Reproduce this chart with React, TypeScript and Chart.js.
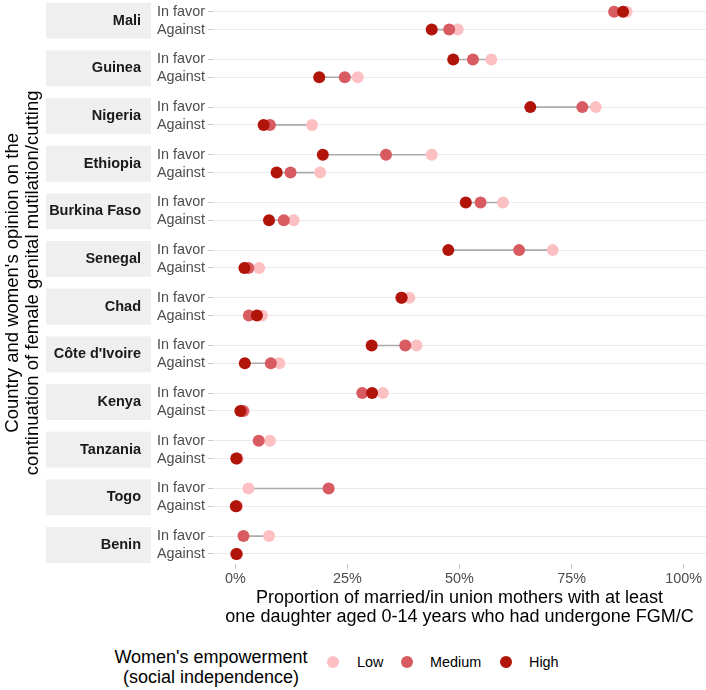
import React, { useEffect, useRef } from 'react';
import { Chart, registerables } from 'chart.js';

Chart.register(...registerables);

const countries = ['Mali', 'Guinea', 'Nigeria', 'Ethiopia', 'Burkina Faso', 'Senegal', 'Chad', "Côte d'Ivoire", 'Kenya', 'Tanzania', 'Togo', 'Benin'];
const opinions = ['In favor', 'Against'];

// percentages, one value per country (null = not shown)
const lowInFavor = [87.3, 57.1, 80.4, 43.8, 59.7, 70.8, 38.8, 40.4, 32.9, 7.7, 2.9, 7.5];
const mediumInFavor = [84.5, 53.0, 77.4, 33.6, 54.7, 63.3, 37.0, 37.9, 28.3, 5.2, 20.8, 1.8];
const highInFavor = [86.5, 48.6, 65.8, 19.5, 51.4, 47.5, 37.1, 30.4, 30.5, null, null, null];
const lowAgainst = [49.6, 27.3, 17.1, 18.9, 13.0, 5.3, 5.9, 9.8, 1.9, 0.5, 0.4, 0.4];
const mediumAgainst = [47.7, 24.4, 7.7, 12.3, 10.8, 2.9, 3.0, 7.9, 1.7, 0.3, 0.2, 0.3];
const highAgainst = [43.8, 18.7, 6.3, 9.2, 7.5, 2.0, 4.8, 2.1, 1.1, 0.2, 0.1, 0.2];

const xTicks = [0, 25, 50, 75, 100];

const levels = ['Low', 'Medium', 'High'];
const levelColors = ['#FCC0C3', '#D75B60', '#B11409'];

const FONT = 'Liberation Sans, Arial, sans-serif';
const PANEL_STEP = 2.678; // distance between facets, in row units
const rowY = (i: number, k: number) => i * PANEL_STEP + k;

const toPoints = (favor: (number | null)[], against: (number | null)[]) =>
  countries
    .flatMap((_, i) => [
      { x: favor[i], y: rowY(i, 0) },
      { x: against[i], y: rowY(i, 1) },
    ])
    .filter((p) => p.x != null);

const stripPlugin = {
  id: 'strips',
  afterDraw(chart: any) {
    const { ctx } = chart;
    const y = chart.scales.y;
    ctx.save();
    countries.forEach((name, i) => {
      const top = y.getPixelForValue(rowY(i, 0) - 0.51);
      const bottom = y.getPixelForValue(rowY(i, 1) + 0.51);
      ctx.fillStyle = '#EFEFEF';
      ctx.fillRect(46, top, 105, bottom - top);
      ctx.fillStyle = '#1A1A1A';
      ctx.font = `bold 14.5px ${FONT}`;
      ctx.textAlign = 'right';
      ctx.textBaseline = 'middle';
      ctx.fillText(name, 141, (top + bottom) / 2);
    });
    ctx.restore();
  },
};

const DumbbellChart = () => {
  const chartRef = useRef<HTMLCanvasElement>(null);

  useEffect(() => {
    const allSeries = [
      [lowInFavor, lowAgainst],
      [mediumInFavor, mediumAgainst],
      [highInFavor, highAgainst],
    ];

    const segments: { x: number | null; y: number | null }[] = [];
    countries.forEach((_, i) => {
      [0, 1].forEach((k) => {
        const vals = allSeries.map((s) => s[k][i]).filter((v) => v != null) as number[];
        if (vals.length < 2) return;
        segments.push({ x: Math.min(...vals), y: rowY(i, k) });
        segments.push({ x: Math.max(...vals), y: rowY(i, k) });
        segments.push({ x: null, y: null });
      });
    });

    const rowTicks = countries.flatMap((_, i) => [rowY(i, 0), rowY(i, 1)]);

    const chart = new Chart(chartRef.current!, {
      type: 'scatter',
      data: {
        datasets: [
          {
            label: 'range',
            data: segments as any,
            showLine: true,
            borderColor: '#ABABAB',
            borderWidth: 1.6,
            pointRadius: 0,
            order: 4,
          },
          ...levels.map((lvl, j) => ({
            label: lvl,
            data: toPoints(allSeries[j][0], allSeries[j][1]) as any,
            backgroundColor: levelColors[j],
            borderWidth: 0,
            pointRadius: 6,
            showLine: false,
            order: 3 - j,
          })),
        ],
      },
      options: {
        animation: false,
        responsive: true,
        maintainAspectRatio: false,
        events: [],
        layout: { autoPadding: false, padding: { top: 2, left: 0, right: 0, bottom: 0 } },
        plugins: {
          legend: { display: false },
          tooltip: { enabled: false },
        },
        scales: {
          x: {
            type: 'linear',
            min: -5,
            max: 105,
            afterBuildTicks: (s: any) => {
              s.ticks = xTicks.map((v) => ({ value: v }));
            },
            afterFit: (s: any) => {
              s.height = 66.3;
              s.paddingLeft = 0;
              s.paddingRight = 0;
            },
            grid: { drawOnChartArea: false, tickLength: 5, tickColor: '#C8C8C8' },
            border: { display: false },
            ticks: {
              callback: (v: any) => `${v}%`,
              color: '#4D4D4D',
              font: { family: FONT, size: 14.4 },
              padding: 2,
            },
            title: {
              display: true,
              text: [
                'Proportion of married/in union mothers with at least',
                'one daughter aged 0-14 years who had undergone FGM/C',
              ],
              color: '#000',
              font: { family: FONT, size: 18, lineHeight: 1.08 },
              padding: { top: 0, bottom: 3 },
            },
          },
          y: {
            type: 'linear',
            reverse: true,
            min: -0.55,
            max: rowY(countries.length - 1, 1) + 0.55,
            afterBuildTicks: (s: any) => {
              s.ticks = rowTicks.map((v) => ({ value: v }));
            },
            afterFit: (s: any) => {
              s.width = 213;
              s.paddingTop = 0;
              s.paddingBottom = 0;
            },
            grid: { color: '#EBEBEB', tickLength: 5, tickColor: '#C8C8C8' },
            border: { display: false },
            ticks: {
              autoSkip: false,
              callback: (_v: any, idx: number) => opinions[idx % 2],
              color: '#4D4D4D',
              font: { family: FONT, size: 14.4 },
              padding: 3,
            },
            title: {
              display: true,
              text: [
                "Country and women's opinion on the",
                'continuation of female genital mutilation/cutting',
              ],
              color: '#000',
              font: { family: FONT, size: 18.5, lineHeight: 1.06 },
              padding: { top: 3, bottom: 0 },
            },
          },
        },
      },
      plugins: [stripPlugin],
    });

    return () => {
      chart.destroy();
    };
  }, []);

  return <canvas ref={chartRef} />;
};

const App = () => {
  return (
    <div style={{ position: 'absolute', left: 0, top: 0, width: 706, height: 690, background: '#fff', fontFamily: FONT }}>
      <div style={{ position: 'relative', width: 706, height: 630 }}>
        <DumbbellChart />
      </div>
      <div
        style={{
          position: 'absolute',
          left: 106,
          top: 647,
          width: 210,
          textAlign: 'center',
          fontSize: 18,
          lineHeight: '20px',
          color: '#000',
        }}
      >
        Women's empowerment
        <br />
        (social independence)
      </div>
      {levels.map((lvl, j) => {
        const cx = [333, 407, 506][j];
        const tx = [357, 430, 529][j];
        return (
          <React.Fragment key={lvl}>
            <span
              style={{
                position: 'absolute',
                left: cx - 6,
                top: 656,
                width: 12,
                height: 12,
                borderRadius: 6,
                background: levelColors[j],
              }}
            />
            <span
              style={{
                position: 'absolute',
                left: tx,
                top: 653,
                fontSize: 14.4,
                lineHeight: '18px',
                color: '#000',
              }}
            >
              {lvl}
            </span>
          </React.Fragment>
        );
      })}
    </div>
  );
};

export default App;
